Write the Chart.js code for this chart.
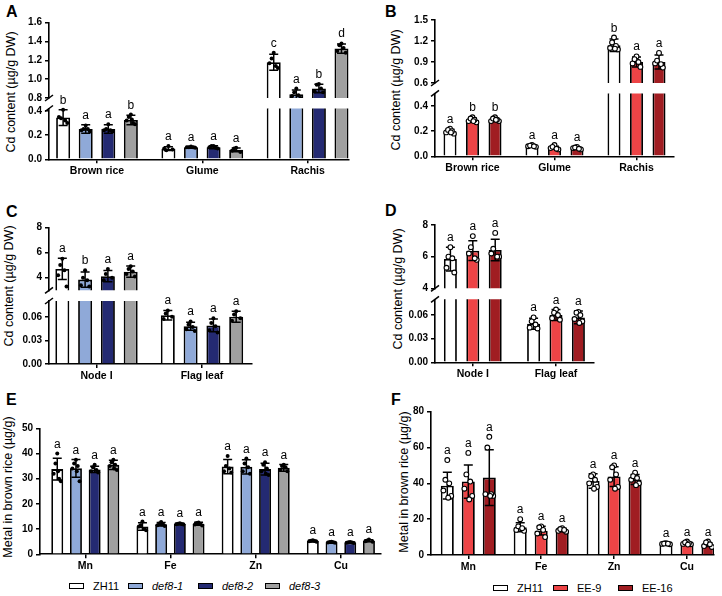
<!DOCTYPE html>
<html>
<head>
<meta charset="utf-8">
<script src="https://cdn.jsdelivr.net/npm/chart.js@4.4.1/dist/chart.umd.min.js"></script>
<style>
  body { margin: 0; background: #fff; }
  #fig { position: relative; width: 722px; height: 596px; overflow: hidden; font-family: "Liberation Sans", Arial, sans-serif; color: #000; }
  #fig canvas { position: absolute; }
  .plab { position: absolute; font-weight: bold; font-size: 16px; line-height: 16px; }
  .ytitle { position: absolute; font-size: 12.5px; white-space: nowrap; transform: translate(-50%, -50%) rotate(-90deg); }
  .leg { position: absolute; height: 12px; display: flex; align-items: center; font-size: 11px; white-space: nowrap; }
  .leg .box { display: inline-block; width: 13px; height: 4px; border: 1.6px solid #000; margin-right: 9px; }
</style>
</head>
<body>
<div id="fig">
  <div class="plab" style="left:6px;top:3.5px">A</div>
  <div class="plab" style="left:385px;top:3.5px">B</div>
  <div class="plab" style="left:6px;top:203.5px">C</div>
  <div class="plab" style="left:385px;top:203px">D</div>
  <div class="plab" style="left:6px;top:392px">E</div>
  <div class="plab" style="left:391px;top:391.5px">F</div>

  <div class="ytitle" style="left:10.5px;top:92px">Cd content (µg/g DW)</div>
  <div class="ytitle" style="left:395.5px;top:90px">Cd content (µg/g DW)</div>
  <div class="ytitle" style="left:8.5px;top:286px">Cd content (µg/g DW)</div>
  <div class="ytitle" style="left:398px;top:288.5px">Cd content (µg/g DW)</div>
  <div class="ytitle" style="left:8px;top:487px">Metal in brown rice (µg/g)</div>
  <div class="ytitle" style="left:403.5px;top:482px">Metal in brown rice (µg/g)</div>

  <div class="leg" style="left:69px;top:580px"><span class="box" style="background:#ffffff"></span>ZH11</div>
  <div class="leg" style="left:128px;top:580px"><span class="box" style="background:#8fa9d8"></span><i>def8-1</i></div>
  <div class="leg" style="left:198px;top:580px"><span class="box" style="background:#242a72"></span><i>def8-2</i></div>
  <div class="leg" style="left:265px;top:580px"><span class="box" style="background:#a0a0a0"></span><i>def8-3</i></div>

  <div class="leg" style="left:493px;top:581.5px"><span class="box" style="background:#ffffff"></span>ZH11</div>
  <div class="leg" style="left:553px;top:581.5px"><span class="box" style="background:#ed4446"></span>EE-9</div>
  <div class="leg" style="left:618px;top:581.5px"><span class="box" style="background:#a01d22"></span>EE-16</div>
</div>

<script>
// lines and colours
const linesDef8 = ["ZH11", "def8-1", "def8-2", "def8-3"];
const colorsDef8 = ["#ffffff", "#8fa9d8", "#242a72", "#a0a0a0"];
const linesEE = ["ZH11", "EE-9", "EE-16"];
const colorsEE = ["#ffffff", "#ed4446", "#a01d22"];

// categories
const tissuesAB = ["Brown rice", "Glume", "Rachis"];
const tissuesCD = ["Node I", "Flag leaf"];
const metals = ["Mn", "Fe", "Zn", "Cu"];

// A: Cd, def8 lines (rows = lines, cols = tissues)
const meanA = [[0.345, 0.088, 1.18], [0.25, 0.10, 0.84], [0.25, 0.10, 0.90], [0.325, 0.078, 1.325]];
const sdA = [[0.065, 0.015, 0.085], [0.035, 0.005, 0.045], [0.035, 0.012, 0.045], [0.04, 0.015, 0.05]];
const dotsA = [
  [[0.41, 0.35, 0.30, 0.34, 0.32], [0.11, 0.09, 0.08, 0.075], [1.28, 1.17, 1.12, 1.22, 1.14]],
  [[0.28, 0.24, 0.23, 0.25, 0.25], [0.105, 0.10, 0.095, 0.10, 0.10], [0.90, 0.82, 0.80, 0.86, 0.83]],
  [[0.29, 0.24, 0.23, 0.25, 0.24], [0.11, 0.10, 0.09, 0.11, 0.095], [0.95, 0.87, 0.86, 0.94, 0.90]],
  [[0.37, 0.32, 0.29, 0.35, 0.30, 0.33], [0.095, 0.07, 0.06, 0.09], [1.38, 1.30, 1.28, 1.36, 1.33]]
];
const letA = [["b", "a", "c"], ["a", "a", "a"], ["a", "a", "b"], ["b", "a", "d"]];

// B: Cd, EE lines
const meanB = [[0.20, 0.082, 1.14], [0.29, 0.068, 0.90], [0.29, 0.064, 0.90]];
const sdB = [[0.015, 0.007, 0.09], [0.015, 0.012, 0.07], [0.013, 0.008, 0.1]];
const dotsB = [
  [[0.22, 0.19, 0.18, 0.21, 0.20, 0.19], [0.09, 0.08, 0.075, 0.085, 0.08], [1.25, 1.10, 1.08, 1.18, 1.13, 1.09]],
  [[0.31, 0.28, 0.27, 0.30, 0.29, 0.28], [0.09, 0.065, 0.055, 0.075, 0.06], [0.98, 0.88, 0.83, 0.94, 0.90]],
  [[0.31, 0.28, 0.28, 0.30, 0.29, 0.29], [0.075, 0.065, 0.055, 0.07, 0.06], [1.03, 0.88, 0.82, 0.92, 0.87]]
];
const letB = [["a", "a", "b"], ["b", "a", "a"], ["b", "a", "a"]];

// C: Cd in node I / flag leaf, def8 lines
const meanC = [[4.7, 0.062], [3.85, 0.048], [4.12, 0.049], [4.48, 0.060]];
const sdC = [[0.85, 0.006], [0.6, 0.005], [0.45, 0.008], [0.45, 0.007]];
const dotsC = [
  [[5.5, 4.2, 3.3, 5.0, 4.6], [0.068, 0.057, 0.060, 0.064]],
  [[4.6, 3.4, 3.3, 4.0, 3.8], [0.054, 0.044, 0.042, 0.050, 0.047]],
  [[4.7, 3.8, 4.0, 4.3], [0.058, 0.043, 0.040, 0.052, 0.048]],
  [[4.9, 4.3, 4.1, 4.7, 4.5], [0.067, 0.055, 0.058, 0.063]]
];
const letC = [["a", "a"], ["b", "a"], ["a", "a"], ["a", "a"]];

// D: Cd in node I / flag leaf, EE lines
const meanD = [[5.85, 0.049], [6.38, 0.060], [6.42, 0.057]];
const sdD = [[0.75, 0.007], [0.62, 0.007], [0.68, 0.008]];
const dotsD = [
  [[6.6, 5.3, 5.0, 6.0, 5.9], [0.057, 0.044, 0.043, 0.052, 0.048]],
  [[7.3, 6.2, 5.8, 6.6, 5.9], [0.067, 0.056, 0.054, 0.063, 0.060]],
  [[7.5, 6.2, 6.0, 6.5, 6.0], [0.064, 0.055, 0.052, 0.063, 0.060, 0.050]]
];
const letD = [["a", "a"], ["a", "a"], ["a", "a"]];

// E: metals in brown rice, def8 lines
const meanE = [[33.8, 11.0, 34.8, 5.3], [34.1, 11.9, 34.7, 4.8], [33.7, 12.0, 33.8, 4.7], [35.5, 12.1, 34.3, 5.4]];
const sdE = [[4.3, 1.5, 2.8, 0.3], [3.5, 0.7, 2.8, 0.2], [1.2, 0.3, 2.3, 0.2], [1.8, 0.6, 1.3, 0.4]];
const dotsE = [
  [[40, 32, 29, 36, 30, 33], [13, 11, 9.5, 11.5, 10], [39, 33, 32.5, 35, 34], [5.6, 5.2, 5.0, 5.4, 5.3]],
  [[37.5, 34, 29, 36, 35, 33], [12.8, 11.5, 11.2, 12.2, 12, 11.8], [38, 33, 32, 36, 34.5], [5.0, 4.7, 4.6, 4.9, 4.8]],
  [[35.5, 33, 32.5, 34.5, 33.5], [12.3, 11.9, 11.8, 12.1, 12], [36.5, 33, 31.5, 35.5, 34, 32], [4.9, 4.6, 4.5, 4.8, 4.7]],
  [[37.5, 35, 33.5, 36.5, 35.5, 34], [12.6, 11.8, 11.4, 12.4, 12], [35.5, 33.5, 33, 35, 34.5], [5.9, 5.2, 5.0, 5.5]]
];
const letE = [["a", "a", "a", "a"], ["a", "a", "a", "a"], ["a", "a", "a", "a"], ["a", "a", "a", "a"]];

// F: metals in brown rice, EE lines
const meanF = [[38.7, 15.5, 41.3, 6.3], [41.0, 13.6, 43.8, 6.5], [43.2, 14.0, 42.2, 5.7]];
const sdF = [[7.5, 2.5, 4.0, 0.3], [9.3, 2.5, 5.5, 0.6], [15.5, 1.0, 2.8, 1.0]];
const dotsF = [
  [[53, 36, 33, 42, 40, 32], [20, 14, 13.5, 16, 15], [45, 40, 38, 44, 42, 37], [6.6, 6.2, 6.0, 6.4, 6.3]],
  [[57, 37, 33, 45, 41, 31], [16, 12, 10, 15.5, 14], [50, 42, 38, 49, 45, 37], [7.5, 6.2, 6, 7, 6.5, 5.8]],
  [[66, 34, 33, 60, 34, 33], [15, 13.5, 13, 14.5, 14], [46, 42, 40, 44, 43, 39], [7.5, 5, 4.5, 7, 6]]
];
const letF = [["a", "a", "a", "a"], ["a", "a", "a", "a"], ["a", "a", "a", "a"]];

const FONT = "'Liberation Sans', Arial, sans-serif";
const JIT = [0, -0.3, 0.3, -0.15, 0.15, 0.07];

// error bars, replicate dots, letters and axis-break marks
const extras = {
  id: "extras",
  afterDatasetsDraw(chart, args, o) {
    const ctx = chart.ctx, a = chart.chartArea, ys = chart.scales.y;
    chart.data.datasets.forEach((ds, di) => {
      const meta = chart.getDatasetMeta(di);
      meta.data.forEach((bar, gi) => {
        const m = ds.data[gi].y;
        if (m < ys.min || m > ys.max) return;
        const sd = ds.sd[gi], reps = ds.reps[gi];
        const yt = ys.getPixelForValue(m + sd), yb = ys.getPixelForValue(m - sd);
        ctx.save();
        ctx.beginPath();
        ctx.rect(a.left, a.top - 20, a.right - a.left, a.bottom - a.top + 20);
        ctx.clip();
        ctx.strokeStyle = "#000";
        ctx.lineWidth = 1.5;
        ctx.beginPath();
        ctx.moveTo(bar.x, yt); ctx.lineTo(bar.x, yb);
        ctx.moveTo(bar.x - 4.5, yt); ctx.lineTo(bar.x + 4.5, yt);
        ctx.moveTo(bar.x - 4.5, yb); ctx.lineTo(bar.x + 4.5, yb);
        ctx.stroke();
        reps.forEach((v, k) => {
          const px = bar.x + JIT[k % JIT.length] * bar.width;
          const py = ys.getPixelForValue(v);
          ctx.beginPath();
          if (o.open) {
            ctx.arc(px, py, 2.4, 0, Math.PI * 2);
            ctx.fillStyle = "#fff"; ctx.fill();
            ctx.lineWidth = 1.1; ctx.stroke();
          } else {
            ctx.arc(px, py, 2, 0, Math.PI * 2);
            ctx.fillStyle = "#000"; ctx.fill();
          }
        });
        ctx.restore();
        const top = Math.min(yt, ys.getPixelForValue(Math.max(...reps)));
        ctx.save();
        ctx.fillStyle = "#000";
        ctx.font = "12px " + FONT;
        ctx.textAlign = "center";
        ctx.textBaseline = "alphabetic";
        ctx.fillText(ds.lets[gi], bar.x, top - 6);
        ctx.restore();
      });
    });
    if (o.brk) {
      const yy = o.brk === "top" ? a.top : a.bottom;
      ctx.save();
      ctx.strokeStyle = "#000";
      ctx.lineWidth = 1.5;
      ctx.beginPath();
      ctx.moveTo(a.left - 4, yy + 3);
      ctx.lineTo(a.left + 4, yy - 3);
      ctx.stroke();
      ctx.restore();
    }
  }
};

const fig = document.getElementById("fig");

function addChart(p) {
  const [l, t, w, h] = p.box;
  const [x0, x1, y0, y1] = p.area;
  const cv = document.createElement("canvas");
  cv.width = w; cv.height = h;
  cv.style.left = l + "px"; cv.style.top = t + "px";
  fig.appendChild(cv);
  const YW = 36, XH = p.showX ? 22 : 0;
  const xmin = -(p.g0 - x0) / p.step;
  const xmax = xmin + (x1 - x0) / p.step;
  const datasets = p.means.map((row, li) => ({
    label: p.lines[li],
    data: row.map((v, gi) => ({ x: gi, y: v })),
    backgroundColor: p.colors[li],
    borderColor: "#000",
    borderWidth: 1.8,
    categoryPercentage: p.cat,
    barPercentage: p.bar,
    clip: 0,
    sd: p.sds[li],
    reps: p.dots[li],
    lets: p.lets[li]
  }));
  new Chart(cv, {
    type: "bar",
    data: { datasets },
    options: {
      responsive: false,
      animation: false,
      layout: { padding: { left: x0 - l - YW, right: l + w - x1, top: y0 - t, bottom: t + h - y1 - XH } },
      plugins: {
        legend: { display: false },
        tooltip: { enabled: false },
        extras: { brk: p.brk, open: p.open }
      },
      scales: {
        x: {
          type: "linear",
          min: xmin,
          max: xmax,
          offset: false,
          bounds: "data",
          display: p.showX,
          afterBuildTicks: s => { s.ticks = p.cats.map((c, i) => ({ value: i })); },
          afterFit: s => { s.height = XH; },
          ticks: {
            callback: v => p.cats[v],
            autoSkip: false, maxRotation: 0,
            color: "#000", padding: 2,
            font: { family: FONT, size: 10.5, weight: "bold" }
          },
          grid: { offset: false, drawOnChartArea: false, tickLength: 4, color: "#000", lineWidth: 1.5 },
          border: { color: "#000", width: 1.6 }
        },
        y: {
          min: p.ymin,
          max: p.ymax,
          afterBuildTicks: s => { s.ticks = p.yticks.map(v => ({ value: v })); },
          afterFit: s => { s.width = YW; },
          ticks: {
            callback: v => Number(v).toFixed(p.dec),
            color: "#000", padding: 3,
            font: { family: FONT, size: 10, weight: "bold" }
          },
          grid: { drawOnChartArea: false, tickLength: 4, color: "#000", lineWidth: 1.5 },
          border: { color: "#000", width: 1.6 }
        }
      }
    },
    plugins: [extras]
  });
}

function panel(base, parts) {
  parts.forEach(part => addChart(Object.assign({}, base, part)));
}

// A
panel({ box: [0, 0, 361, 190], cats: tissuesAB, lines: linesDef8, colors: colorsDef8, g0: 97, step: 105.3, cat: 0.858, bar: 0.62,
        means: meanA, sds: sdA, dots: dotsA, lets: letA, open: false }, [
  { area: [49, 349, 22.7, 98], ymin: 0.8, ymax: 1.6, yticks: [0.8, 1.0, 1.2, 1.4, 1.6], dec: 1, showX: false, brk: "bottom" },
  { area: [49, 349, 108.5, 159.3], ymin: 0, ymax: 0.42, yticks: [0, 0.2, 0.4], dec: 1, showX: true, brk: "top" }
]);

// B
panel({ box: [361, 0, 361, 190], cats: tissuesAB, lines: linesEE, colors: colorsEE, g0: 472.5, step: 82, cat: 0.823, bar: 0.578,
        means: meanB, sds: sdB, dots: dotsB, lets: letB, open: true }, [
  { area: [435, 674, 20, 83], ymin: 0.6, ymax: 1.5, yticks: [0.6, 0.9, 1.2, 1.5], dec: 1, showX: false, brk: "bottom" },
  { area: [435, 674, 93.4, 156.3], ymin: 0, ymax: 0.5, yticks: [0, 0.2, 0.4], dec: 1, showX: true, brk: "top" }
]);

// C
panel({ box: [0, 190, 361, 200], cats: tissuesCD, lines: linesDef8, colors: colorsDef8, g0: 96.5, step: 105.5, cat: 0.864, bar: 0.614,
        means: meanC, sds: sdC, dots: dotsC, lets: letC, open: false }, [
  { area: [49, 251.7, 227.3, 290.3], ymin: 3, ymax: 8, yticks: [4, 6, 8], dec: 0, showX: false, brk: "bottom" },
  { area: [49, 251.7, 301, 364], ymin: 0, ymax: 0.08, yticks: [0, 0.03, 0.06], dec: 2, showX: true, brk: "top" }
]);

// D
panel({ box: [361, 190, 361, 200], cats: tissuesCD, lines: linesEE, colors: colorsEE, g0: 472.8, step: 83.2, cat: 0.808, bar: 0.58,
        means: meanD, sds: sdD, dots: dotsD, lets: letD, open: true }, [
  { area: [435, 594, 225, 288.3], ymin: 4, ymax: 8, yticks: [4, 6, 8], dec: 0, showX: false, brk: "bottom" },
  { area: [435, 594, 299.3, 362.3], ymin: 0, ymax: 0.08, yticks: [0, 0.03, 0.06], dec: 2, showX: true, brk: "top" }
]);

// E
addChart({ box: [0, 385, 400, 205], area: [40, 381, 428.3, 554.3], cats: metals, lines: linesDef8, colors: colorsDef8,
           g0: 85.3, step: 85.2, cat: 0.878, bar: 0.64, means: meanE, sds: sdE, dots: dotsE, lets: letE, open: false,
           ymin: 0, ymax: 50, yticks: [0, 10, 20, 30, 40, 50], dec: 0, showX: true });

// F
addChart({ box: [361, 385, 361, 205], area: [431, 714, 411.7, 555], cats: metals, lines: linesEE, colors: colorsEE,
           g0: 468.3, step: 72.9, cat: 0.864, bar: 0.62, means: meanF, sds: sdF, dots: dotsF, lets: letF, open: true,
           ymin: 0, ymax: 80, yticks: [0, 20, 40, 60, 80], dec: 0, showX: true });
</script>
</body>
</html>
